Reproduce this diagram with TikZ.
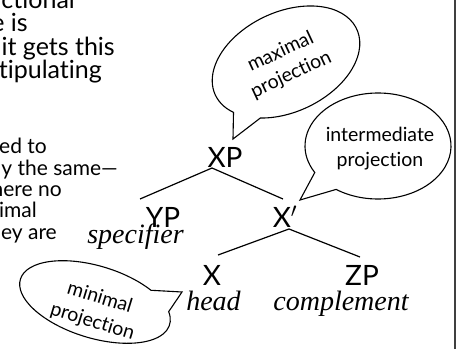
\documentclass[tikz,border=0pt]{standalone}
\usepackage{fontspec}
\setmainfont{Lato}[Ligatures={NoCommon,NoRare,NoContextual}]
\newfontfamily\labelserif{Liberation Serif}
\usetikzlibrary{calc}
\tikzset{
  cat/.style={inner sep=0pt, anchor=base, font=\fontsize{28}{28}\selectfont},
  role/.style={inner sep=0pt, anchor=base, font=\labelserif\itshape\fontsize{28}{28}\selectfont},
  branch/.style={line width=1.2pt},
  bubble/.style={draw, line width=1.1pt, fill=white, line join=miter},
  bubbletext/.style={inner sep=0pt, align=center, font=\fontsize{19.5}{25}\selectfont},
  prose/.style={inner sep=0pt, anchor=base east, font=\fontsize{25}{25}\selectfont},
  aside/.style={inner sep=0pt, anchor=base east, font=\fontsize{21}{21}\selectfont},
  rule/.style={line width=1.4pt, black!75},
}
\begin{document}
\begin{tikzpicture}[x=1pt,y=1pt]
\useasboundingbox (0,0) rectangle (461,349);

% running text at the left, cut by the frame
\node[prose] (p1) at (75,340.5) {ctional};
\node[prose] (p2) at (28,317.2) {e is};
\node[prose] (p3) at (115,293.9) {it gets this};
\node[prose] (p4) at (102,270.6) {stipulating};
\node[aside] (a1) at (47,196) {ed to};
\node[aside] (a2) at (118,174) {ly the same—};
\node[aside] (a3) at (62,153) {here no};
\node[aside] (a4) at (37,132) {ximal};
\node[aside] (a5) at (57,110) {hey are};

% the X-bar tree
\node[cat] (xp) at (225,182) {XP};
\node[cat] (yp) at (163,122) {YP};
\node[role] (spec) at (135.5,106) {specifier};
\node[cat] (xbar) at (285,122) {X$'$};
\node[cat] (x) at (212,64) {X};
\node[role] (head) at (213.5,39) {head};
\node[cat] (zp) at (362,64) {ZP};
\node[role] (comp) at (341,39) {complement};

\draw[branch] ($(yp.base)+(-23,28)$) -- ($(xp.base)+(-13,-1)$) -- ($(xbar.base)+(-2,28)$);
\draw[branch] ($(x.base)+(6,30)$) -- ($(xbar.base)+(4,-2)$) -- ($(zp.base)+(-2,28)$);

% speech bubbles
\coordinate (maxtip) at ($(xp.base)+(8,28)$);
\coordinate (midtip) at ($(xbar.base)+(15,27)$);
\coordinate (mintip) at ($(head.base)+(-31.5,18)$);

\begin{scope}[shift={(286,287)}, rotate=25]
  \draw[bubble] (233:78pt and 50pt) arc[start angle=233, end angle=568, x radius=78pt, y radius=50pt] -- (maxtip) -- cycle;
\end{scope}
\node[bubbletext, rotate=25] (maxlabel) at (286,285.5) {maximal\\projection};

\begin{scope}[shift={(378,203)}]
  \draw[bubble] (235:73pt and 53pt) arc[start angle=235, end angle=570, x radius=73pt, y radius=53pt] -- (midtip) -- cycle;
\end{scope}
\node[bubbletext] (midlabel) at (380,200) {intermediate\\projection};

\begin{scope}[shift={(95,47)}, rotate=-17]
  \draw[bubble] (50:78pt and 36pt) arc[start angle=50, end angle=380, x radius=78pt, y radius=36pt] -- (mintip) -- cycle;
\end{scope}
\node[bubbletext, rotate=-17] (minlabel) at (96,39) {minimal\\projection};

% frame edge
\draw[rule] (455,0) -- (455,349);
\end{tikzpicture}
\end{document}
